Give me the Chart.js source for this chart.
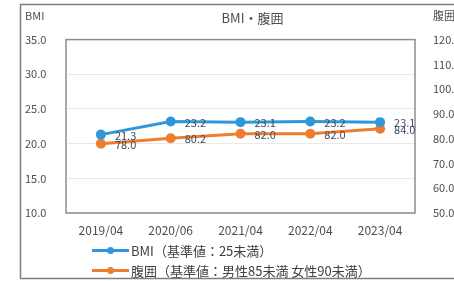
<!DOCTYPE html>
<html>
<head>
<meta charset="utf-8">
<script src="https://cdn.jsdelivr.net/npm/chart.js@4"></script>
<style>
  html, body { margin: 0; padding: 0; background: #fff; overflow: hidden; }
  #wrap { position: relative; width: 454px; height: 281px; overflow: hidden; }
  #chart { position: absolute; left: 0; top: 0; }
  #legend { position: absolute; left: 92px; top: 240px; font-family: "Noto Sans CJK JP", sans-serif; font-size: 13px; color: #404040; }
  .row { height: 20px; display: flex; align-items: center; white-space: nowrap; }
  .sw { position: relative; width: 37px; height: 3px; margin-right: 2px; }
  .sw i { position: absolute; left: 15px; top: -2px; width: 7px; height: 7px; border-radius: 50%; }
</style>
</head>
<body>
<div id="wrap">
  <canvas id="chart" width="480" height="281" style="width:480px;height:281px"></canvas>
  <div id="legend"></div>
</div>
<script>
const categories = ['2019/04', '2020/06', '2021/04', '2022/04', '2023/04'];
const bmiValues = [21.3, 23.2, 23.1, 23.2, 23.1];
const waistValues = [78.0, 80.2, 82.0, 82.0, 84.0];
const seriesNames = ['BMI（基準値：25未満）', '腹囲（基準値：男性85未満 女性90未満）'];
const bmiTicks = [10, 15, 20, 25, 30, 35];
const waistTicks = [50, 60, 70, 80, 90, 100, 110, 120];

const BLUE = '#2f97da';
const ORANGE = '#ed7d31';
const FONT = '"Noto Sans CJK JP", sans-serif';
const TEXT = '#4d4d4d';

// frame, plot box, axis titles, value labels
const decorations = {
  id: 'decorations',
  beforeDraw(chart) {
    const ctx = chart.ctx;
    ctx.save();
    ctx.strokeStyle = '#7f7f7f';
    ctx.lineWidth = 1.5;
    ctx.strokeRect(20.5, 4.5, 470, 274);
    ctx.restore();
  },
  beforeDatasetsDraw(chart) {
    const a = chart.chartArea;
    const ctx = chart.ctx;
    ctx.save();
    ctx.strokeStyle = '#8c8c8c';
    ctx.lineWidth = 1.5;
    ctx.strokeRect(a.left, a.top, a.right - a.left, a.bottom - a.top);
    ctx.fillStyle = TEXT;
    ctx.font = '11px ' + FONT;
    ctx.textBaseline = 'middle';
    ctx.textAlign = 'left';
    ctx.fillText('BMI', 25, 16);
    ctx.fillText('腹囲', 433, 16);
    ctx.restore();
  },
  afterDatasetsDraw(chart) {
    const ctx = chart.ctx;
    ctx.save();
    ctx.font = '11px ' + FONT;
    ctx.fillStyle = '#3e4a5c';
    ctx.textAlign = 'left';
    ctx.textBaseline = 'middle';
    chart.data.datasets.forEach((ds, i) => {
      chart.getDatasetMeta(i).data.forEach((pt, j) => {
        ctx.fillText(ds.data[j].toFixed(1), pt.x + 14, pt.y + 1);
      });
    });
    ctx.restore();
  }
};

const chart = new Chart(document.getElementById('chart'), {
  type: 'line',
  data: {
    labels: categories,
    datasets: [{
      label: seriesNames[0],
      data: bmiValues,
      yAxisID: 'y',
      borderColor: BLUE,
      backgroundColor: BLUE,
      borderWidth: 3,
      pointRadius: 5,
      pointBorderWidth: 0
    }, {
      label: seriesNames[1],
      data: waistValues,
      yAxisID: 'y1',
      borderColor: ORANGE,
      backgroundColor: ORANGE,
      borderWidth: 3,
      pointRadius: 5,
      pointBorderWidth: 0
    }]
  },
  options: {
    responsive: false,
    animation: false,
    layout: { padding: { left: 25, right: 0, top: 0, bottom: 0 } },
    plugins: {
      legend: { display: false },
      tooltip: { enabled: false },
      title: {
        display: true,
        text: 'BMI・腹囲',
        color: TEXT,
        font: { family: FONT, size: 13, weight: 'normal' },
        padding: { top: 10, bottom: 14 }
      }
    },
    scales: {
      x: {
        offset: true,
        grid: { display: false, drawTicks: false },
        border: { display: false },
        ticks: { color: TEXT, font: { family: FONT, size: 12 }, padding: 10, maxRotation: 0 },
        afterFit(s) { s.height = 68; }
      },
      y: {
        position: 'left',
        min: 10, max: 35,
        afterBuildTicks(s) { s.ticks = bmiTicks.map(v => ({ value: v })); },
        grid: { color: '#e8e8e8', drawTicks: false },
        border: { display: false },
        ticks: { color: TEXT, font: { family: FONT, size: 11 }, crossAlign: 'far', padding: 4,
          callback: v => v.toFixed(1) },
        afterFit(s) { s.width = 41; }
      },
      y1: {
        position: 'right',
        min: 50, max: 120,
        afterBuildTicks(s) { s.ticks = waistTicks.map(v => ({ value: v })); },
        grid: { drawOnChartArea: false, drawTicks: false },
        border: { display: false },
        ticks: { color: TEXT, font: { family: FONT, size: 11 }, padding: 18,
          callback: v => v.toFixed(1) },
        afterFit(s) { s.width = 65; }
      }
    }
  },
  plugins: [decorations]
});

// legend rows under the axis, built from the chart's datasets
const legendEl = document.getElementById('legend');
chart.data.datasets.forEach(ds => {
  const row = document.createElement('div');
  row.className = 'row';
  const sw = document.createElement('span');
  sw.className = 'sw';
  sw.style.background = ds.borderColor;
  const dot = document.createElement('i');
  dot.style.background = ds.borderColor;
  sw.appendChild(dot);
  row.appendChild(sw);
  row.appendChild(document.createTextNode(ds.label));
  legendEl.appendChild(row);
});
</script>
</body>
</html>
